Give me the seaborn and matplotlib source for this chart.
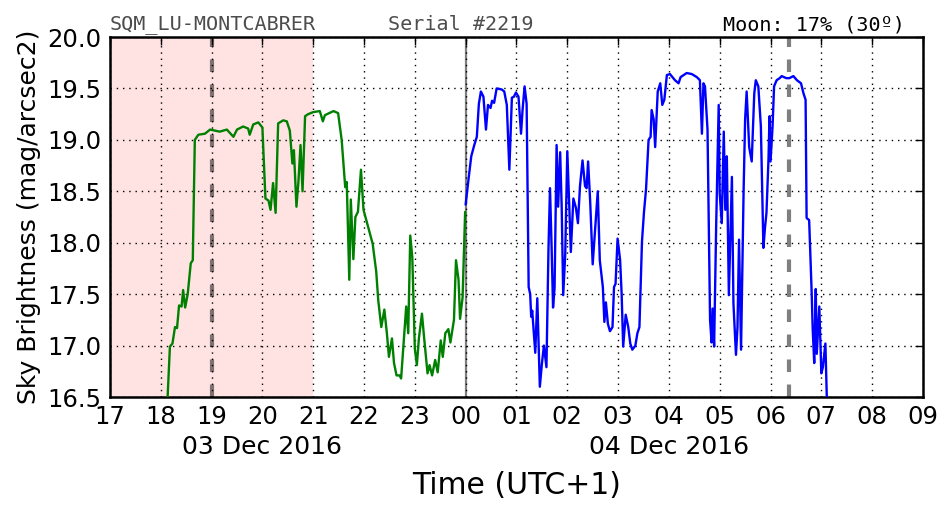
import matplotlib
matplotlib.use("Agg")
import matplotlib.pyplot as plt
import matplotlib.transforms as mtransforms
import seaborn as sns
import pandas as pd

# ---- data (hours; values >24 are the next day) ----
green_t = [18.13, 18.18, 18.23, 18.28, 18.32, 18.36, 18.41, 18.44, 18.48, 18.53,
           18.59, 18.63, 18.67, 18.74, 18.87, 18.97, 19.16, 19.30, 19.43, 19.50,
           19.62, 19.72, 19.75, 19.82, 19.92, 20.00, 20.03, 20.06, 20.12, 20.16,
           20.21, 20.26, 20.31, 20.41, 20.48, 20.54, 20.59, 20.62, 20.67, 20.71,
           20.75, 20.79, 20.84, 20.90, 21.00, 21.13, 21.19, 21.23, 21.40, 21.49,
           21.56, 21.63, 21.66, 21.71, 21.74, 21.79, 21.83, 21.88, 21.94, 21.99,
           22.17, 22.24, 22.28, 22.34, 22.40, 22.45, 22.49, 22.55, 22.59, 22.64,
           22.70, 22.73, 22.83, 22.87, 22.91, 22.95, 23.00, 23.04, 23.08, 23.14,
           23.18, 23.25, 23.29, 23.34, 23.40, 23.45, 23.51, 23.55, 23.60, 23.66,
           23.70, 23.77, 23.81, 23.86, 23.89, 23.94, 23.99]
green_v = [16.45, 16.99, 17.02, 17.18, 17.17, 17.39, 17.38, 17.54, 17.37, 17.50,
           17.80, 17.83, 19.00, 19.05, 19.06, 19.10, 19.08, 19.10, 19.03, 19.10,
           19.13, 19.11, 19.05, 19.15, 19.17, 19.12, 18.77, 18.43, 18.41, 18.32,
           18.58, 18.29, 19.16, 19.19, 19.18, 19.09, 18.77, 18.90, 18.35, 18.60,
           18.95, 18.50, 19.23, 19.25, 19.27, 19.28, 19.18, 19.24, 19.28, 19.26,
           19.00, 18.54, 18.59, 17.64, 18.42, 17.84, 18.25, 18.30, 18.71, 18.32,
           17.99, 17.72, 17.44, 17.18, 17.35, 17.12, 16.89, 17.07, 16.83, 16.71,
           16.71, 16.68, 17.38, 17.12, 18.07, 17.86, 16.97, 16.81, 17.07, 17.31,
           17.09, 16.73, 16.81, 16.71, 16.86, 16.74, 17.05, 16.89, 17.12, 17.16,
           17.03, 17.25, 17.83, 17.64, 17.26, 17.47, 18.30]

blue_t = [24.00, 24.05, 24.11, 24.17, 24.22, 24.26, 24.30, 24.35, 24.40, 24.44,
          24.49, 24.52, 24.56, 24.61, 24.71, 24.76, 24.81, 24.86, 24.91, 24.95,
          24.99, 25.04, 25.09, 25.12, 25.16, 25.20, 25.24, 25.27, 25.29, 25.31,
          25.37, 25.41, 25.46, 25.50, 25.54, 25.59, 25.63, 25.66, 25.69, 25.72,
          25.75, 25.79, 25.82, 25.86, 25.89, 25.92, 25.96, 26.00, 26.04, 26.07,
          26.12, 26.17, 26.21, 26.25, 26.30, 26.35, 26.38, 26.41, 26.45, 26.50,
          26.55, 26.60, 26.64, 26.70, 26.73, 26.76, 26.80, 26.84, 26.89, 26.92,
          26.95, 26.99, 27.04, 27.07, 27.10, 27.15, 27.20, 27.24, 27.28, 27.34,
          27.38, 27.42, 27.47, 27.51, 27.55, 27.60, 27.64, 27.66, 27.70, 27.73,
          27.78, 27.83, 27.87, 27.91, 27.96, 28.02, 28.12, 28.19, 28.23, 28.35,
          28.45, 28.55, 28.61, 28.65, 28.68, 28.71, 28.76, 28.81, 28.84, 28.86,
          28.89, 28.93, 28.98, 29.00, 29.04, 29.08, 29.11, 29.14, 29.18, 29.24,
          29.27, 29.32, 29.35, 29.38, 29.42, 29.47, 29.50, 29.53, 29.58, 29.63,
          29.68, 29.71, 29.76, 29.81, 29.86, 29.89, 29.92, 29.96, 29.98, 30.00,
          30.04, 30.07, 30.12, 30.18, 30.22, 30.31, 30.37, 30.45, 30.52, 30.60,
          30.65, 30.69, 30.71, 30.76, 30.81, 30.83, 30.86, 30.89, 30.91, 30.96,
          31.00, 31.03, 31.08, 31.11]
blue_v = [18.37, 18.59, 18.84, 18.95, 19.03, 19.35, 19.47, 19.42, 19.10, 19.34,
          19.31, 19.38, 19.36, 19.50, 19.49, 19.47, 19.34, 18.71, 19.41, 19.42,
          19.46, 19.42, 19.06, 19.29, 19.52, 19.35, 17.57, 17.50, 17.28, 17.34,
          16.93, 17.46, 16.60, 16.82, 17.00, 16.79, 17.94, 18.53, 17.99, 17.37,
          17.56, 18.95, 18.35, 18.88, 18.35, 17.49, 17.89, 18.89, 18.35, 17.91,
          18.43, 18.34, 18.19, 18.55, 18.80, 18.55, 18.53, 18.79, 18.41, 17.79,
          18.15, 18.50, 17.83, 17.57, 17.23, 17.42, 17.21, 17.14, 17.18, 17.57,
          17.60, 18.04, 17.83, 17.50, 16.99, 17.30, 17.18, 17.02, 16.96, 17.00,
          17.12, 17.18, 18.01, 18.30, 18.52, 19.00, 19.03, 19.29, 19.20, 18.93,
          19.47, 19.55, 19.34, 19.39, 19.63, 19.64, 19.58, 19.55, 19.61, 19.65,
          19.64, 19.61, 19.58, 19.06, 19.55, 19.52, 19.10, 17.25, 17.03, 17.36,
          16.99, 18.16, 19.34, 18.48, 18.19, 19.08, 18.32, 18.84, 17.49, 18.64,
          17.41, 16.91, 17.18, 18.03, 16.96, 18.50, 19.20, 19.47, 18.93, 18.79,
          19.45, 19.58, 19.52, 19.13, 17.95, 18.14, 18.29, 18.81, 19.23, 18.79,
          19.13, 19.52, 19.58, 19.60, 19.62, 19.60, 19.60, 19.62, 19.58, 19.55,
          19.45, 19.39, 18.24, 18.22, 17.51, 17.16, 16.83, 17.55, 16.92, 17.38,
          16.73, 16.79, 17.02, 16.45]

tick_hours = list(range(17, 34))
tick_labels = ["17", "18", "19", "20", "21", "22", "23", "00", "01", "02",
               "03", "04", "05", "06", "07", "08", "09"]
y_ticks = [16.5, 17.0, 17.5, 18.0, 18.5, 19.0, 19.5, 20.0]
date_pos = [20, 28]
date_labels = ["03 Dec 2016", "04 Dec 2016"]
twilight_span = (17, 21)
midnight = 24
moon_events = [19.0, 30.37]
title_station = "SQM_LU-MONTCABRER"
title_serial = "Serial #2219"
title_moon = "Moon: 17% (30º)"

sns.set_style("white")
plt.rcParams["font.family"] = ["DejaVu Sans"]
plt.rcParams["text.color"] = "k"
plt.rcParams["axes.labelcolor"] = "k"

fig, ax = plt.subplots(figsize=(9.52, 5.12), dpi=100)
fig.subplots_adjust(left=0.1155, right=0.9695, top=0.9277, bottom=0.2246)

ax.axvspan(*twilight_span, color="red", alpha=0.11, lw=0, zorder=0)

gdf = pd.DataFrame({"t": green_t, "v": green_v})
bdf = pd.DataFrame({"t": blue_t, "v": blue_v})
sns.lineplot(data=gdf, x="t", y="v", color="green", lw=1.7, ax=ax,
             estimator=None, sort=False, zorder=3)
sns.lineplot(data=bdf, x="t", y="v", color="blue", lw=1.7, ax=ax,
             estimator=None, sort=False, zorder=3)

ax.axvline(midnight, color="k", alpha=0.5, lw=1.6, zorder=2)
for m in moon_events:
    ax.axvline(m, color="k", alpha=0.5, lw=3, ls=(0, (3, 3)), zorder=2)

ax.set_xlim(17, 33)
ax.set_ylim(16.5, 20.0)
ax.set_xticks(tick_hours)
ax.set_xticklabels(tick_labels)
ax.set_yticks(y_ticks)
ax.set_yticklabels([f"{v:.1f}" for v in y_ticks])
ax.tick_params(axis="both", direction="in", length=6, width=1, labelsize=17.5,
               top=True, right=True, colors="k", labelcolor="k", pad=6)
ax.grid(True, color="k", ls=(0, (1, 3.5)), lw=1)
for s in ax.spines.values():
    s.set_linewidth(1.8)
    s.set_color("k")

trans = mtransforms.blended_transform_factory(ax.transData, ax.transAxes)
for p, lab in zip(date_pos, date_labels):
    ax.text(p, -0.14, lab, transform=trans, ha="center", va="center",
            fontsize=18, color="k")

ax.set_xlabel("Time (UTC+1)", fontsize=21.5, labelpad=30, color="k")
ax.set_ylabel("Sky Brightness (mag/arcsec2)", fontsize=18, labelpad=5,
              color="k")

ax.text(0.0, 1.008, title_station, transform=ax.transAxes, ha="left",
        va="bottom", family="DejaVu Sans Mono", fontsize=14.5, color="0.3")
ax.text(0.431, 1.008, title_serial, transform=ax.transAxes, ha="center",
        va="bottom", family="DejaVu Sans Mono", fontsize=14.5, color="0.3")
ax.text(0.978, 1.008, title_moon, transform=ax.transAxes, ha="right",
        va="bottom", family="DejaVu Sans Mono", fontsize=14.5, color="k")

fig.savefig("out.png", dpi=100)
